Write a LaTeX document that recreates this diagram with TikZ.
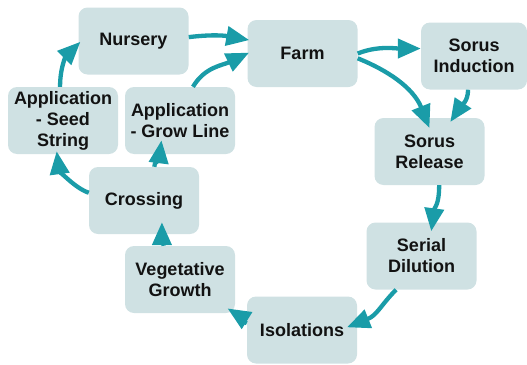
\documentclass[tikz,border=0pt]{standalone}
\usepackage{fontspec}
\setmainfont{Liberation Sans}
\usetikzlibrary{arrows.meta}
\definecolor{boxfill}{HTML}{CFE1E3}
\definecolor{flow}{HTML}{1A9CA8}
\begin{document}
\begin{tikzpicture}[x=1pt,y=-1pt,
  stage/.style={fill=boxfill, rounded corners=9pt, minimum width=110pt,
    minimum height=67pt, inner sep=2pt, align=center, text=black!93,
    font=\fontsize{18}{21}\selectfont\bfseries},
  link/.style={draw=flow, line width=4.3pt,
    -{Triangle[length=23pt,width=19pt]}}]
\useasboundingbox (0,0) rectangle (527,364);

% stages of the cycle
\node[stage] (nur)   at (133.5,41)  {Nursery};
\node[stage] (farm)  at (302.5,53.5){Farm};
\node[stage, minimum width=106pt] (sind) at (474,56) {Sorus\\Induction};
\node[stage] (srel)  at (429.5,151.5){Sorus\\Release};
\node[stage] (sdil)  at (421.5,256) {Serial\\Dilution};
\node[stage] (iso)   at (302,330)   {Isolations};
\node[stage] (veg)   at (180,279.5) {Vegetative\\Growth};
\node[stage] (cross) at (144,200.5) {Crossing};
\node[stage] (seed)  at (63,120.5)  {Application\\- Seed\\String};
\node[stage] (grow)  at (180,120.5) {Application\\- Grow Line};

% connectors
\draw[link, shorten >=-2pt] (nur.4) .. controls +(25,-3) and +(-22,-4) .. (farm.166);
\draw[link, shorten >=-2pt] (grow.69) .. controls +(12,-20) and +(-25,12) .. (farm.west);
\draw[link] (farm.east) .. controls +(20,-8) and +(-25,0) .. (sind.172);
\draw[link, shorten >=-11pt] (farm.-5) .. controls +(30,12) and +(-12,-30) .. (srel.97);
\draw[link, shorten >=-5pt] (sind.260) .. controls +(0,12) and +(8,-12) .. (srel.55);
\draw[link, shorten >=-9pt] (srel.-74) .. controls +(0,20) and +(2,-15) .. (sdil.72);
\draw[link, shorten >=-11pt] (sdil.233) .. controls +(-15,15) and +(20,-8) .. (iso.7);
\draw[link, shorten >=-9pt] (iso.173) .. controls +(-10,-4) and +(8,5) .. (veg.south east);
\draw[link, shorten >=-12pt] (veg.116) .. controls +(-1,-8) and +(0,8) .. (cross.-62);
\draw[link, shorten >=-14pt] (cross.73) .. controls +(1,-8) and +(-1,8) .. (grow.239);
\draw[link, shorten >=-3pt] (cross.172) .. controls +(-15,-5) and +(2,15) .. (seed.260);
\draw[link, shorten >=-3pt] (seed.95) .. controls +(0,-20) and +(-12,12) .. (nur.183);
\end{tikzpicture}
\end{document}
